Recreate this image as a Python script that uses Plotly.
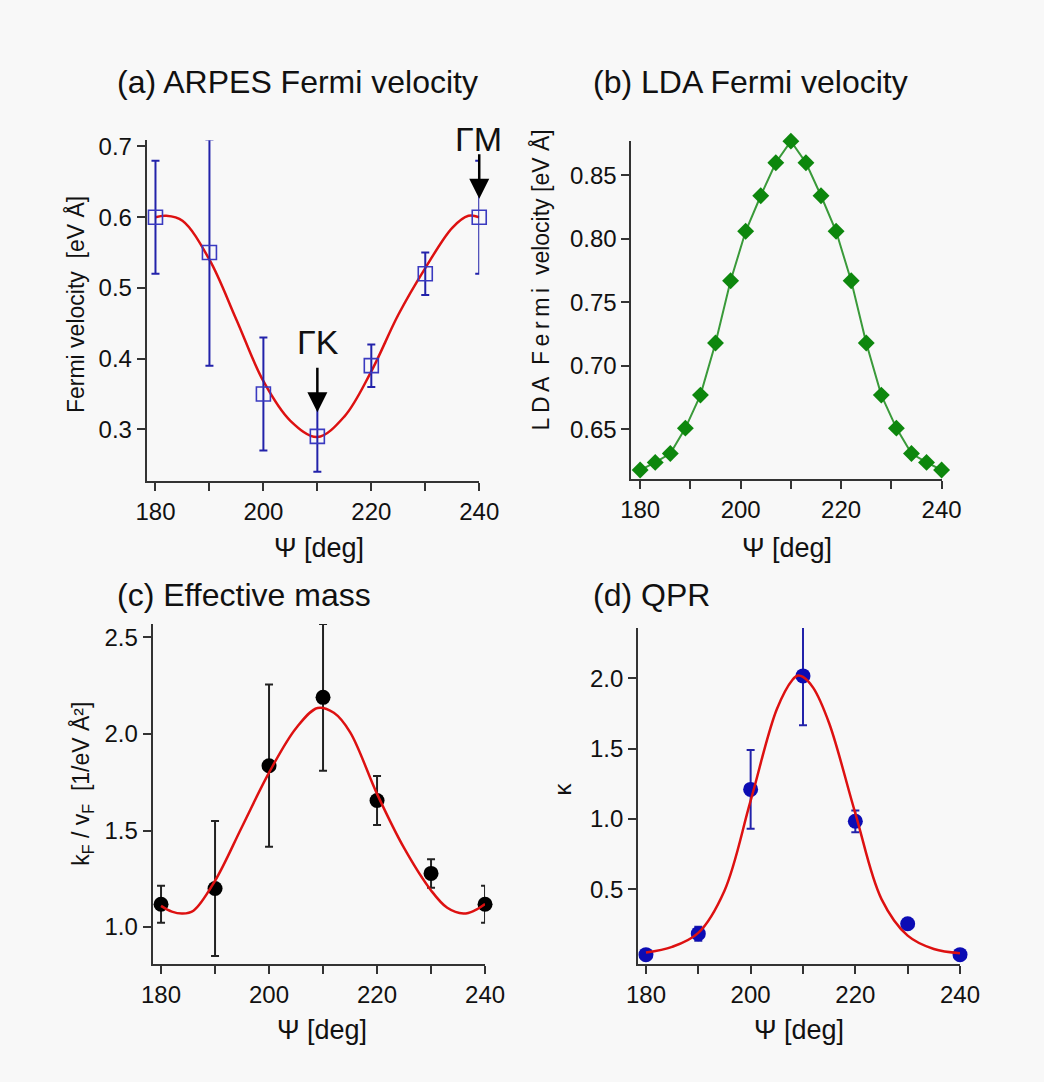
import plotly.graph_objects as go

W, H = 1044, 1082

# ---------------- data ----------------
psi = [180, 190, 200, 210, 220, 230, 240]

# (a) ARPES Fermi velocity
vf_arpes = [0.60, 0.55, 0.35, 0.29, 0.39, 0.52, 0.60]
vf_arpes_err = [0.08, 0.16, 0.08, 0.05, 0.03, 0.03, 0.08]
fit_a_psi = [180, 182, 185, 190, 195, 200, 205, 210, 215, 220, 225, 230, 235, 238, 240]
fit_a_val = [0.600, 0.602, 0.595, 0.540, 0.455, 0.368, 0.312, 0.289, 0.318, 0.382, 0.462, 0.528, 0.585, 0.602, 0.600]

# (b) LDA Fermi velocity
psi_lda = [180, 183, 186, 189, 192, 195, 198, 201, 204, 207, 210,
           213, 216, 219, 222, 225, 228, 231, 234, 237, 240]
vf_lda = [0.618, 0.624, 0.631, 0.651, 0.677, 0.718, 0.767, 0.806, 0.834, 0.860, 0.877,
          0.860, 0.834, 0.806, 0.767, 0.718, 0.677, 0.651, 0.631, 0.624, 0.618]

# (c) Effective mass
mass = [1.118, 1.20, 1.836, 2.19, 1.656, 1.278, 1.118]
mass_err = [0.096, 0.35, 0.42, 0.38, 0.127, 0.074, 0.096]
fit_c_psi = [180, 182, 184, 186, 190, 195, 200, 205, 209, 212, 215, 220, 225, 230, 233, 236, 238, 240]
fit_c_val = [1.11, 1.08, 1.07, 1.085, 1.24, 1.52, 1.80, 2.03, 2.135, 2.11, 2.01, 1.69, 1.41, 1.19, 1.10, 1.07, 1.085, 1.12]

# (d) QPR
kappa = [0.035, 0.184, 1.21, 2.017, 0.983, 0.255, 0.035]
kappa_err = [0.0, 0.05, 0.28, 0.35, 0.077, 0.0, 0.0]
fit_d_psi = [180, 185, 190, 195, 200, 205, 208, 209, 210, 212, 215, 220, 225, 230, 235, 240]
fit_d_val = [0.05, 0.09, 0.19, 0.49, 1.13, 1.78, 1.99, 2.02, 2.01, 1.93, 1.68, 1.04, 0.43, 0.17, 0.075, 0.045]

x_tickvals = [180, 190, 200, 210, 220, 230, 240]
x_ticktext = ["180", "", "200", "", "220", "", "240"]

FONT = "Liberation Sans, Arial, sans-serif"
RED = "#dd1111"

def px(x):
    return x / W

def py(y):
    return 1 - y / H

fig = go.Figure()

# (a)
fig.add_trace(go.Scatter(x=fit_a_psi, y=fit_a_val, mode="lines", line=dict(color=RED, width=2.5, shape="spline"),
                         xaxis="x", yaxis="y", showlegend=False, cliponaxis=False))
fig.add_trace(go.Scatter(x=psi, y=vf_arpes, mode="markers",
                         marker=dict(symbol="square-open", size=14, color="#3a3ac0", line=dict(width=1.6)),
                         error_y=dict(type="data", array=vf_arpes_err, color="#2222aa", thickness=2, width=4),
                         xaxis="x", yaxis="y", showlegend=False, cliponaxis=False))
# (b)
fig.add_trace(go.Scatter(x=psi_lda, y=vf_lda, mode="lines+markers",
                         line=dict(color="#3a9a3a", width=2),
                         marker=dict(symbol="diamond", size=13, color="#0d870d"),
                         xaxis="x2", yaxis="y2", showlegend=False, cliponaxis=False))
# (c)
fig.add_trace(go.Scatter(x=psi, y=mass, mode="markers",
                         marker=dict(symbol="circle", size=15, color="#000000"),
                         error_y=dict(type="data", array=mass_err, color="#222222", thickness=2, width=4),
                         xaxis="x3", yaxis="y3", showlegend=False, cliponaxis=False))
fig.add_trace(go.Scatter(x=fit_c_psi, y=fit_c_val, mode="lines", line=dict(color=RED, width=2.5, shape="spline"),
                         xaxis="x3", yaxis="y3", showlegend=False, cliponaxis=False))
# (d)
fig.add_trace(go.Scatter(x=psi, y=kappa, mode="markers",
                         marker=dict(symbol="circle", size=15, color="#0c0cb4"),
                         error_y=dict(type="data", array=kappa_err, color="#2222aa", thickness=2, width=4),
                         xaxis="x4", yaxis="y4", showlegend=False, cliponaxis=False))
fig.add_trace(go.Scatter(x=fit_d_psi, y=fit_d_val, mode="lines", line=dict(color=RED, width=2.5, shape="spline"),
                         xaxis="x4", yaxis="y4", showlegend=False, cliponaxis=False))

axis_common = dict(showgrid=False, zeroline=False, showline=True, linecolor="#333333", linewidth=2,
                   ticks="outside", ticklen=8, tickwidth=2, tickcolor="#333333",
                   tickfont=dict(family=FONT, size=24, color="#111111"))

def xax(domain, rng, anchor):
    d = dict(axis_common)
    d.update(domain=domain, range=rng, anchor=anchor, tickmode="array",
             tickvals=x_tickvals, ticktext=x_ticktext)
    return d

def yax(domain, rng, anchor, tickvals, fmt):
    d = dict(axis_common)
    d.update(domain=domain, range=rng, anchor=anchor, tickmode="array", tickvals=tickvals,
             ticktext=[format(v, fmt) for v in tickvals])
    return d

fig.update_layout(
    xaxis=xax([px(139), px(482)], [178.38, 240], "y"),
    yaxis=yax([py(477), py(134)], [0.227, 0.709], "x", [0.3, 0.4, 0.5, 0.6, 0.7], ".1f"),
    xaxis2=xax([px(639), px(959)], [178.26, 240], "y2"),
    yaxis2=yax([py(475), py(135)], [0.611, 0.877], "x2", [0.65, 0.70, 0.75, 0.80, 0.85], ".2f"),
    xaxis3=xax([px(145), px(488)], [178.43, 240], "y3"),
    yaxis3=yax([py(963), py(621)], [0.81, 2.57], "x3", [1.0, 1.5, 2.0, 2.5], ".1f"),
    xaxis4=xax([px(646), px(978)], [178.52, 240], "y4"),
    yaxis4=yax([py(963), py(625)], [-0.03, 2.358], "x4", [0.5, 1.0, 1.5, 2.0], ".1f"),
)

ann = []
def text(x, y, s, size, xanchor="center", angle=0):
    ann.append(dict(x=px(x), y=py(y), xref="paper", yref="paper", text=s, showarrow=False,
                    xanchor=xanchor, yanchor="middle", textangle=angle,
                    font=dict(family=FONT, size=size, color="#111111")))

# panel titles
text(106, 75, "(a) ARPES Fermi velocity", 32, "left")
text(597, 75, "(b) LDA Fermi velocity", 32, "left")
text(106, 592, "(c) Effective mass", 32, "left")
text(597, 592, "(d) QPR", 32, "left")
# x titles
text(317, 545, "Ψ [deg]", 27)
text(800, 545, "Ψ [deg]", 27)
text(320, 1030, "Ψ [deg]", 27)
text(812, 1030, "Ψ [deg]", 27)
# y titles
text(65, 300, "Fermi velocity  [eV Å]", 23, angle=-90)
text(545, 275, "L\u2009D\u2009A  F\u2009e\u2009r\u2009m\u2009i  velocity [eV Å]", 23, angle=-90)
text(72, 782, "k<sub>F</sub> / v<sub>F</sub>  [1/eV Å²]", 23, angle=-90)
text(568, 787, "κ", 24, angle=-90)
# symmetry point labels
text(316, 337, "ΓK", 34)
text(481, 133, "ΓM", 34)

# arrows (tip just above the data points)
ann.append(dict(x=psi[3], y=vf_arpes[3] + 0.034, xref="x", yref="y", ax=0, ay=-46, axref="pixel", ayref="pixel",
                text="", showarrow=True, arrowhead=2, arrowsize=1.6, arrowwidth=2.5, arrowcolor="#000000"))
ann.append(dict(x=psi[6], y=vf_arpes[6] + 0.026, xref="x", yref="y", ax=0, ay=-46, axref="pixel", ayref="pixel",
                text="", showarrow=True, arrowhead=2, arrowsize=1.6, arrowwidth=2.5, arrowcolor="#000000"))

fig.update_layout(
    annotations=ann,
    width=W, height=H,
    margin=dict(l=0, r=0, t=0, b=0),
    paper_bgcolor="#f8f8f8",
    plot_bgcolor="#f8f8f8",
    font=dict(family=FONT),
)

fig.write_html("out.html", config={"displayModeBar": False},
               post_script="document.body.style.margin='0';document.body.style.overflow='hidden';")
